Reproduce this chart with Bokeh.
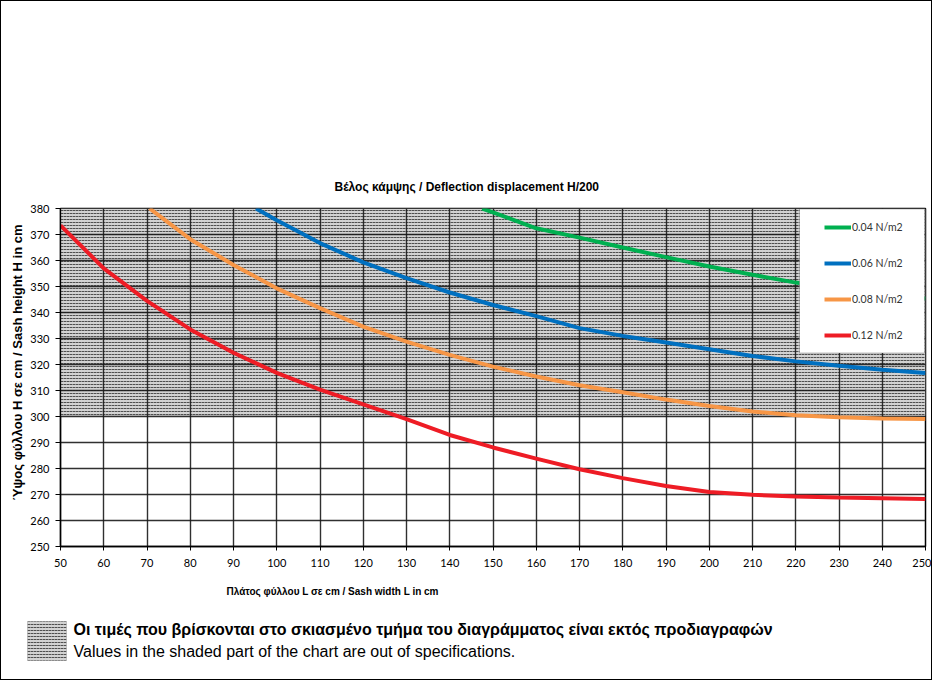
from bokeh.plotting import figure
from bokeh.layouts import column
from bokeh.models import (Range1d, SingleIntervalTicker, Label, Legend, LegendItem,
                          BoxAnnotation, Title)
from bokeh.embed import file_html
from bokeh.resources import INLINE

# ---------------- data ----------------
x_red = [50, 60, 70, 80, 90, 100, 110, 120, 130, 140, 150, 160, 170, 180, 190, 200, 210, 220, 230, 240, 250]
y_red = [373.5, 357, 344.5, 333.5, 324.5, 316.8, 310.3, 304.7, 299, 292.9, 288.1, 283.8, 279.7, 276.3,
         273.3, 271.0, 269.9, 269.2, 268.8, 268.6, 268.3]

x_orange = [70.6, 80, 90, 100, 110, 120, 130, 140, 150, 160, 170, 180, 190, 200, 210, 220, 230, 240, 250]
y_orange = [380, 368.2, 358.3, 349.3, 341.7, 334.6, 328.8, 323.7, 319.2, 315.4, 312.0, 309.3, 306.5,
            304.0, 301.9, 300.5, 299.7, 299.2, 299.0]

x_blue = [95.2, 100, 110, 120, 130, 140, 150, 160, 170, 180, 190, 200, 210, 220, 230, 240, 250]
y_blue = [380, 375.5, 366.7, 359.3, 353.2, 347.7, 342.9, 338.6, 334.0, 331.0, 328.5, 325.9, 323.3,
          321.2, 319.5, 318.0, 316.7]

x_green = [147.5, 150, 160, 170, 180, 190, 200, 210, 220, 230, 240, 250]
y_green = [380, 378.5, 372.4, 368.8, 365.0, 361.3, 357.7, 354.5, 351.5, 349.2, 347.2, 345.4]

series_labels = ["0.04 N/m2", "0.06 N/m2", "0.08 N/m2", "0.12 N/m2"]

x_min, x_max = 50, 250
y_min, y_max = 250, 380
spec_limit = 300  # shaded (out of spec) region above this height
tick_step = 10

chart_title = "Βέλος κάμψης  / Deflection displacement  H/200"
y_title = "Ύψος φύλλου H σε cm / Sash height H in cm"
x_title = "Πλάτος φύλλου L σε cm / Sash width L in cm"
note_gr = "Οι τιμές που βρίσκονται στο σκιασμένο τμήμα του διαγράμματος είναι εκτός προδιαγραφών"
note_en = "Values in the shaded part of the chart are out of specifications."

SHADE_FILL = "#d2d2d2"
SHADE_HATCH = "#505050"

# ---------------- main figure ----------------
W = 930
H_MAIN, H_FOOT = 615, 63
p = figure(width=W, height=H_MAIN, output_backend="svg", toolbar_location=None,
           x_range=Range1d(x_min, x_max), y_range=Range1d(y_min, y_max),
           min_border_left=59, min_border_right=6, min_border_top=207, min_border_bottom=70)
p.background_fill_color = "white"
p.border_fill_color = "white"
p.outline_line_color = "#000000"
p.outline_line_width = 1.5

p.xaxis.ticker = SingleIntervalTicker(interval=tick_step)
p.yaxis.ticker = SingleIntervalTicker(interval=tick_step)
p.xgrid.ticker = SingleIntervalTicker(interval=tick_step)
p.ygrid.ticker = SingleIntervalTicker(interval=tick_step)
for g in (p.xgrid, p.ygrid):
    g.grid_line_color = "#1a1a1a"
    g.grid_line_width = 1.4
    g.grid_line_alpha = 0.9

for ax in (p.xaxis, p.yaxis):
    ax.axis_line_color = "#000000"
    ax.axis_line_width = 1.3
    ax.major_tick_line_color = "#000000"
    ax.major_tick_in = 0
    ax.minor_tick_line_color = None
    ax.major_label_text_font = "Lato"
    ax.major_label_text_font_size = "11px"
    ax.major_label_text_color = "#000000"
p.yaxis.major_tick_out = 5
p.yaxis.major_label_standoff = 6
p.xaxis.major_tick_out = 4
p.xaxis.major_label_standoff = 8

# shaded out-of-spec area
p.quad(left=[x_min], right=[x_max], bottom=[spec_limit], top=[y_max],
       fill_color=SHADE_FILL, line_color=None,
       hatch_pattern="horizontal_dash", hatch_color=SHADE_HATCH,
       hatch_scale=3, hatch_weight=1, level="image")

# curves
lw = 4
r_green = p.line(x_green, y_green, line_color="#00b050", line_width=lw)
r_blue = p.line(x_blue, y_blue, line_color="#0070c0", line_width=lw)
r_orange = p.line(x_orange, y_orange, line_color="#f79646", line_width=lw)
r_red = p.line(x_red, y_red, line_color="#ee1c25", line_width=lw)

# legend frame + legend
legend_box = BoxAnnotation(left=739, right=864, top=337.5, bottom=193.5,
                           left_units="screen", right_units="screen",
                           top_units="screen", bottom_units="screen",
                           fill_color="white", fill_alpha=1.0,
                           line_color="#333333", line_width=1)
p.add_layout(legend_box)

legend = Legend(items=[LegendItem(label=series_labels[0], renderers=[r_green]),
                       LegendItem(label=series_labels[1], renderers=[r_blue]),
                       LegendItem(label=series_labels[2], renderers=[r_orange]),
                       LegendItem(label=series_labels[3], renderers=[r_red])],
                location=(764, 203), padding=0, margin=0, spacing=20,
                glyph_width=27, glyph_height=16, label_height=16, label_standoff=1,
                label_text_font="Lato", label_text_font_size="10.5px",
                label_text_color="#333333",
                background_fill_alpha=0, border_line_alpha=0)
p.add_layout(legend, "center")

# titles around the frame
p.add_layout(Title(text=chart_title, align="left", offset=274, standoff=30,
                   text_font="Liberation Sans", text_font_size="12px",
                   text_font_style="bold", text_color="#000000"), "above")
p.add_layout(Title(text=y_title, align="left", offset=46, standoff=6,
                   text_font="Liberation Sans", text_font_size="13px",
                   text_font_style="bold", text_color="#000000"), "left")
p.add_layout(Title(text=x_title, align="left", offset=166, standoff=29,
                   text_font="Liberation Sans", text_font_size="10px",
                   text_font_style="bold", text_color="#000000"), "below")

# ---------------- footer figure (note) ----------------
f = figure(width=W, height=H_FOOT, output_backend="svg", toolbar_location=None,
           x_range=Range1d(0, 1), y_range=Range1d(0, 1),
           x_axis_type=None, y_axis_type=None,
           min_border_left=0, min_border_right=0, min_border_top=0, min_border_bottom=0)
f.outline_line_color = None
f.xgrid.visible = False
f.ygrid.visible = False
f.background_fill_color = "white"
f.border_fill_color = "white"

# keep each frame independent (no cross-figure frame alignment)
for fig in (p, f):
    if "frame_align" in fig.properties():
        fig.frame_align = False

icon = BoxAnnotation(left=26, right=65, top=58, bottom=19,
                     left_units="screen", right_units="screen",
                     top_units="screen", bottom_units="screen",
                     fill_color=SHADE_FILL, fill_alpha=1.0,
                     hatch_pattern="horizontal_dash", hatch_color=SHADE_HATCH,
                     hatch_scale=3, hatch_weight=1,
                     line_color="#666666", line_width=1)
f.add_layout(icon)
f.add_layout(Label(text=note_gr, x=72, y=50, x_units="screen", y_units="screen",
                   text_font="Liberation Sans", text_font_size="16px", text_font_style="bold",
                   text_baseline="middle", text_color="#000000"))
f.add_layout(Label(text=note_en, x=72, y=28, x_units="screen", y_units="screen",
                   text_font="Liberation Sans", text_font_size="16px",
                   text_baseline="middle", text_color="#000000"))

layout = column(p, f, spacing=0,
                styles={"border": "1px solid #000000", "box-sizing": "border-box"})

open("out.html", "w").write(file_html(layout, INLINE))
